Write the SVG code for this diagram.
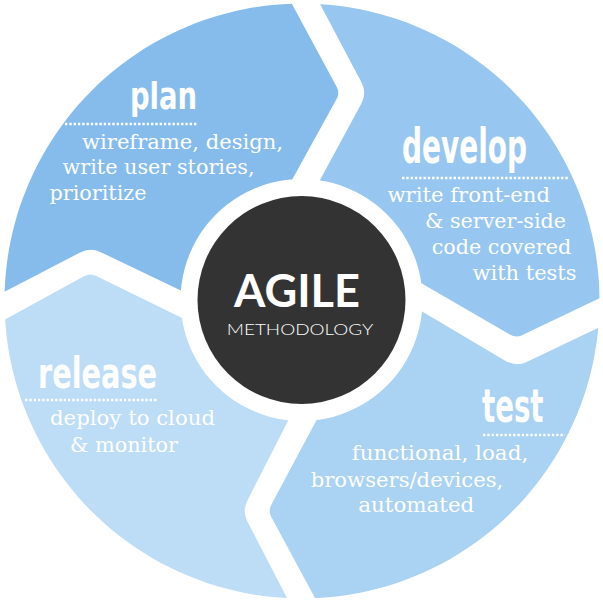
<svg xmlns="http://www.w3.org/2000/svg" width="603" height="604" viewBox="0 0 603 604">
<style>
.title{font-family:"Liberation Sans Narrow","DejaVu Sans Condensed","Liberation Sans",sans-serif;font-weight:bold;fill:#fff}
.body{font-family:"DejaVu Serif Condensed","DejaVu Serif",serif;font-size:20px;fill:#fff}
.dots{stroke:#fff;stroke-width:2.4;stroke-dasharray:2.4 1.9;fill:none}
.agile{font-family:Lato,"Open Sans",sans-serif;font-weight:bold;font-size:46px;fill:#fff}
.meth{font-family:Lato,"Open Sans",sans-serif;font-weight:300;font-size:16.5px;fill:#fff}
</style>
<defs>
<clipPath id="ring">
<path clip-rule="evenodd" d="M302,3.5 A297.5,297.5 0 1,1 301.99,3.5 Z M301.5,179 A121,121 0 1,0 301.51,179 Z"/>
</clipPath>
</defs>
<rect width="603" height="604" fill="#fff"/>
<g id="plan">
<path clip-path="url(#ring)" fill="#85BCEC" d="M301.5,300 L277.6,206 L336.6,99.1 Q340,93 336.6,86.8 L277.6,-22.7 L-50,-50 L-21.8,305.5 L79.7,252.7 Q90,247 100.8,252.2 L207,302.9 Z"/>
<text class="title" x="130" y="109" font-size="38" textLength="67" lengthAdjust="spacingAndGlyphs">plan</text>
<line class="dots" x1="65" y1="124" x2="198" y2="124"/>
<text class="body" x="82" y="148.5" textLength="201" lengthAdjust="spacingAndGlyphs">wireframe, design,</text>
<text class="body" x="62.5" y="174" textLength="192" lengthAdjust="spacingAndGlyphs">write user stories,</text>
<text class="body" x="49.5" y="199.5" textLength="97" lengthAdjust="spacingAndGlyphs">prioritize</text>
</g>
<g id="develop">
<path clip-path="url(#ring)" fill="#97C7F0" d="M301.5,300 L305.9,206.1 L361.4,103.4 Q367,93 361.4,82.3 L305.9,-22.7 L650,-50 L625.2,286 L521.9,335.2 Q516,338 509.4,334.2 L392.5,266.5 Z"/>
<text class="title" x="402" y="162.5" font-size="48" textLength="125" lengthAdjust="spacingAndGlyphs">develop</text>
<line class="dots" x1="402" y1="178" x2="568" y2="178"/>
<text class="body" x="387.5" y="201.7" textLength="162.5" lengthAdjust="spacingAndGlyphs">write front-end</text>
<text class="body" x="425" y="228.3" textLength="141" lengthAdjust="spacingAndGlyphs">&amp; server-side</text>
<text class="body" x="431.7" y="254" textLength="139.5" lengthAdjust="spacingAndGlyphs">code covered</text>
<text class="body" x="472.5" y="279.7" textLength="104" lengthAdjust="spacingAndGlyphs">with tests</text>
</g>
<g id="test">
<path clip-path="url(#ring)" fill="#AAD2F2" d="M301.5,300 L395.1,295.5 L504.8,360.4 Q516,367 526.1,362.2 L625.2,315 L650,650 L329.1,624.1 L271.3,517.1 Q268,511 271.3,504.8 L329.1,396.6 Z"/>
<text class="title" x="482" y="422" font-size="47" textLength="61.5" lengthAdjust="spacingAndGlyphs">test</text>
<line class="dots" x1="483" y1="435" x2="565" y2="435"/>
<text class="body" x="351.7" y="460" textLength="176.6" lengthAdjust="spacingAndGlyphs">functional, load,</text>
<text class="body" x="310.7" y="486.7" textLength="192.6" lengthAdjust="spacingAndGlyphs">browsers/devices,</text>
<text class="body" x="358.3" y="511.7" textLength="116" lengthAdjust="spacingAndGlyphs">automated</text>
</g>
<g id="release">
<path clip-path="url(#ring)" fill="#BDDCF6" d="M301.5,300 L300.5,396.6 L247.4,500.4 Q242,511 247.4,521.4 L300.5,624.1 L-50,650 L-21.8,334.1 L84,276.3 Q90,273 96.3,276.1 L207,330.2 Z"/>
<text class="title" x="38" y="388.3" font-size="43" textLength="119" lengthAdjust="spacingAndGlyphs">release</text>
<line class="dots" x1="25" y1="400" x2="157" y2="400"/>
<text class="body" x="50" y="425" textLength="165" lengthAdjust="spacingAndGlyphs">deploy to cloud</text>
<text class="body" x="70" y="451.7" textLength="108" lengthAdjust="spacingAndGlyphs">&amp; monitor</text>
</g>
<g id="center">
<circle cx="301.5" cy="300" r="104" fill="#333333"/>
<text class="agile" x="234" y="306.7" textLength="126" lengthAdjust="spacingAndGlyphs">AGILE</text>
<text class="meth" x="226.7" y="335" textLength="146.6" lengthAdjust="spacingAndGlyphs">METHODOLOGY</text>
</g>
<g id="connectors"/>
</svg>
